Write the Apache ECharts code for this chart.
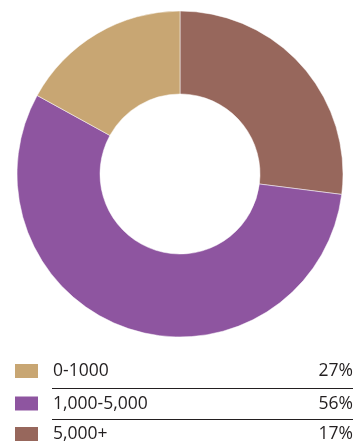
<!DOCTYPE html>
<html><head><meta charset="utf-8">
<script src="https://cdn.jsdelivr.net/npm/echarts@6/dist/echarts.min.js"></script>
<style>html,body{margin:0;padding:0;background:#fff}#c{width:361px;height:444px}</style>
</head><body><div id="c"></div>
<script>
const categories = ['0-1000', '1,000-5,000', '5,000+'];
const shares = [27, 56, 17];
const pctLabels = ['27%', '56%', '17%'];

const sliceColors = ['#97675C', '#8E55A0', '#C8A673'];
const swatchColors = ['#C8A673', '#8E55A0', '#97675C'];

const chart = echarts.init(document.getElementById('c'), null, {renderer: 'canvas'});
const font = '"Open Sans", "Noto Sans", sans-serif';
const rowY = [371, 403.5, 434];
const graphic = [];
categories.forEach((c, i) => {
  graphic.push({type: 'rect', x: 15, y: rowY[i] - 7, shape: {width: 23, height: 14}, style: {fill: swatchColors[i]}});
  graphic.push({type: 'text', x: 53, y: rowY[i] + 0.5, style: {text: c, font: '17.5px ' + font, fill: '#231F20', verticalAlign: 'middle', align: 'left'}});
  graphic.push({type: 'text', x: 353, y: rowY[i] + 0.5, style: {text: pctLabels[i], font: '17.5px ' + font, fill: '#231F20', verticalAlign: 'middle', align: 'right'}});
  if (i < categories.length - 1) {
    graphic.push({type: 'line', shape: {x1: 52, y1: [388.5, 419.5][i], x2: 353, y2: [388.5, 419.5][i]}, style: {stroke: '#231F20', lineWidth: 1}});
  }
});
chart.setOption({
  animation: false,
  graphic: graphic,
  series: [{
    type: 'pie',
    center: [180, 174],
    radius: [80, 163],
    startAngle: 90,
    clockwise: true,
    label: {show: false},
    labelLine: {show: false},
    itemStyle: {borderColor: '#fff', borderWidth: 0.5},
    data: categories.map((c, i) => ({name: c, value: shares[i], itemStyle: {color: sliceColors[i]}}))
  }]
});
</script></body></html>
